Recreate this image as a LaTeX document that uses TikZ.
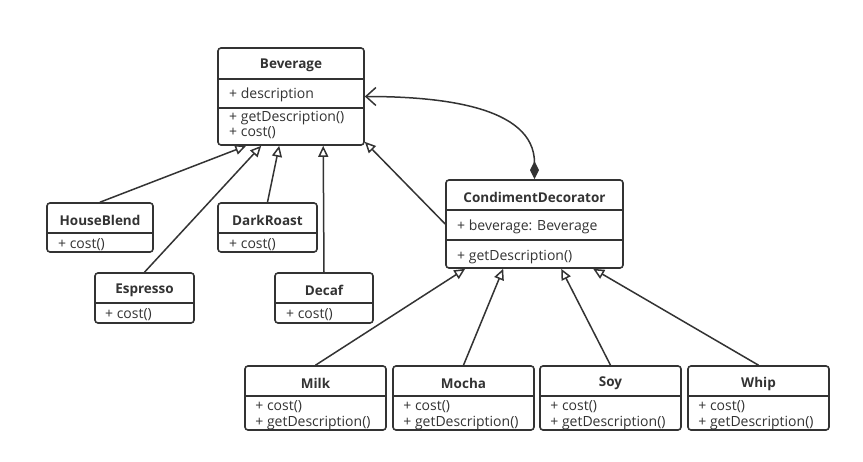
\documentclass[tikz,border=0pt]{standalone}
\usepackage{fontspec}
\setmainfont{Open Sans}
\usetikzlibrary{arrows.meta}

\definecolor{umlgray}{HTML}{333333}

\begin{document}
\begin{tikzpicture}%
    [x=1pt, y=-1pt,
    classbox/.style={draw=umlgray, line width=1.6pt, rounded corners=3pt, fill=white, inner sep=0pt},
    sepline/.style={draw=umlgray, line width=1.5pt},
    title/.style={font=\fontsize{13.5}{15}\selectfont\bfseries, text=umlgray, inner sep=0pt,
      yshift=-2pt},
    member/.style={font=\fontsize{14}{15}\selectfont, text=umlgray, anchor=west, inner sep=0pt,
      text height=10pt, text depth=3pt, yshift=-2pt},
    inherit/.style={draw=umlgray, line width=1.5pt, -{Triangle[open, length=11pt, width=10pt]}},
    assoc/.style={draw=umlgray, line width=1.5pt,
      {Diamond[length=18pt, width=9pt]}-{Straight Barb[length=10pt, width=18pt, line width=1.5pt]}}]

    \useasboundingbox[fill=white] (0,0) rectangle (863,462);

    % Beverage
    \node [classbox, minimum width=146pt, minimum height=97pt] (bev) at (291,96.5) {};
    \node [title] (bevname) at (291,63.5) {Beverage};
    \draw [sepline] (bev.west |- 0,79) -- (bev.east |- 0,79);
    \draw [sepline] (bev.west |- 0,108) -- (bev.east |- 0,108);
    \node [member] (bevdesc) at (229,93.5) {+ description};
    \node [member] (bevget) at (229,116.5) {+ getDescription()};
    \node [member] (bevcost) at (229,131.5) {+ cost()};

    % HouseBlend
    \node [classbox, minimum width=106pt, minimum height=49pt] (house) at (100,227.5) {};
    \node [title] (housename) at (100,218.5) {HouseBlend};
    \draw [sepline] (house.west |- 0,233) -- (house.east |- 0,233);
    \node [member] (housecost) at (58,243.5) {+ cost()};

    % Espresso
    \node [classbox, minimum width=99pt, minimum height=50pt] (esp) at (144.5,298) {};
    \node [title] (espname) at (144.5,288.5) {Espresso};
    \draw [sepline] (esp.west |- 0,303) -- (esp.east |- 0,303);
    \node [member] (espcost) at (105,313.5) {+ cost()};

    % DarkRoast
    \node [classbox, minimum width=99pt, minimum height=49pt] (dark) at (267.5,227.5) {};
    \node [title] (darkname) at (267.5,218.5) {DarkRoast};
    \draw [sepline] (dark.west |- 0,233) -- (dark.east |- 0,233);
    \node [member] (darkcost) at (229,243.5) {+ cost()};

    % Decaf
    \node [classbox, minimum width=98pt, minimum height=50pt] (decaf) at (324,298) {};
    \node [title] (decafname) at (324,288.5) {Decaf};
    \draw [sepline] (decaf.west |- 0,303) -- (decaf.east |- 0,303);
    \node [member] (decafcost) at (286,313.5) {+ cost()};

    % CondimentDecorator
    \node [classbox, minimum width=177pt, minimum height=88pt] (cd) at (534.5,224) {};
    \node [title] (cdname) at (534.5,195.5) {CondimentDecorator};
    \draw [sepline] (cd.west |- 0,210) -- (cd.east |- 0,210);
    \draw [sepline] (cd.west |- 0,240) -- (cd.east |- 0,240);
    \node [member] (cdbev) at (457,225.5) {+ beverage: Beverage};
    \node [member] (cdget) at (457,255.5) {+ getDescription()};

    % condiments
    \foreach \cname/\cx/\ctext in {milk/315.5/Milk, mocha/463.5/Mocha, soy/610.5/Soy, whip/758.5/Whip} {
      \node [classbox, minimum width=141pt, minimum height=64pt] (\cname) at (\cx,398) {};
      \node [title] (\cname name) at (\cx,381.5) {\ctext};
      \draw [sepline] (\cname.west |- 0,396) -- (\cname.east |- 0,396);
      \node [member] (\cname cost) at ([xshift=11pt]\cname.west |- 0,405.5) {+ cost()};
      \node [member] (\cname get) at ([xshift=11pt]\cname.west |- 0,421.5) {+ getDescription()};
    }

    % generalisations
    \draw [inherit] (house.north) -- ([xshift=29pt]bev.south west);
    \draw [inherit] (esp.north) -- ([xshift=44pt]bev.south west);
    \draw [inherit] (dark.north) -- ([xshift=62pt]bev.south west);
    \draw [inherit] (decaf.north) -- ([xshift=106pt]bev.south west);
    \draw [inherit] (cd.west) -- ([yshift=4pt]bev.south east);

    \draw [inherit] (milk.north) -- ([xshift=20pt]cd.south west);
    \draw [inherit] (mocha.north) -- ([xshift=58pt]cd.south west);
    \draw [inherit] (soy.north) -- ([xshift=116pt]cd.south west);
    \draw [inherit] (whip.north) -- ([xshift=148pt]cd.south west);

    % aggregation
    \draw [assoc] (cd.north) to[out=90, in=0] (bev.east);
\end{tikzpicture}
\end{document}
